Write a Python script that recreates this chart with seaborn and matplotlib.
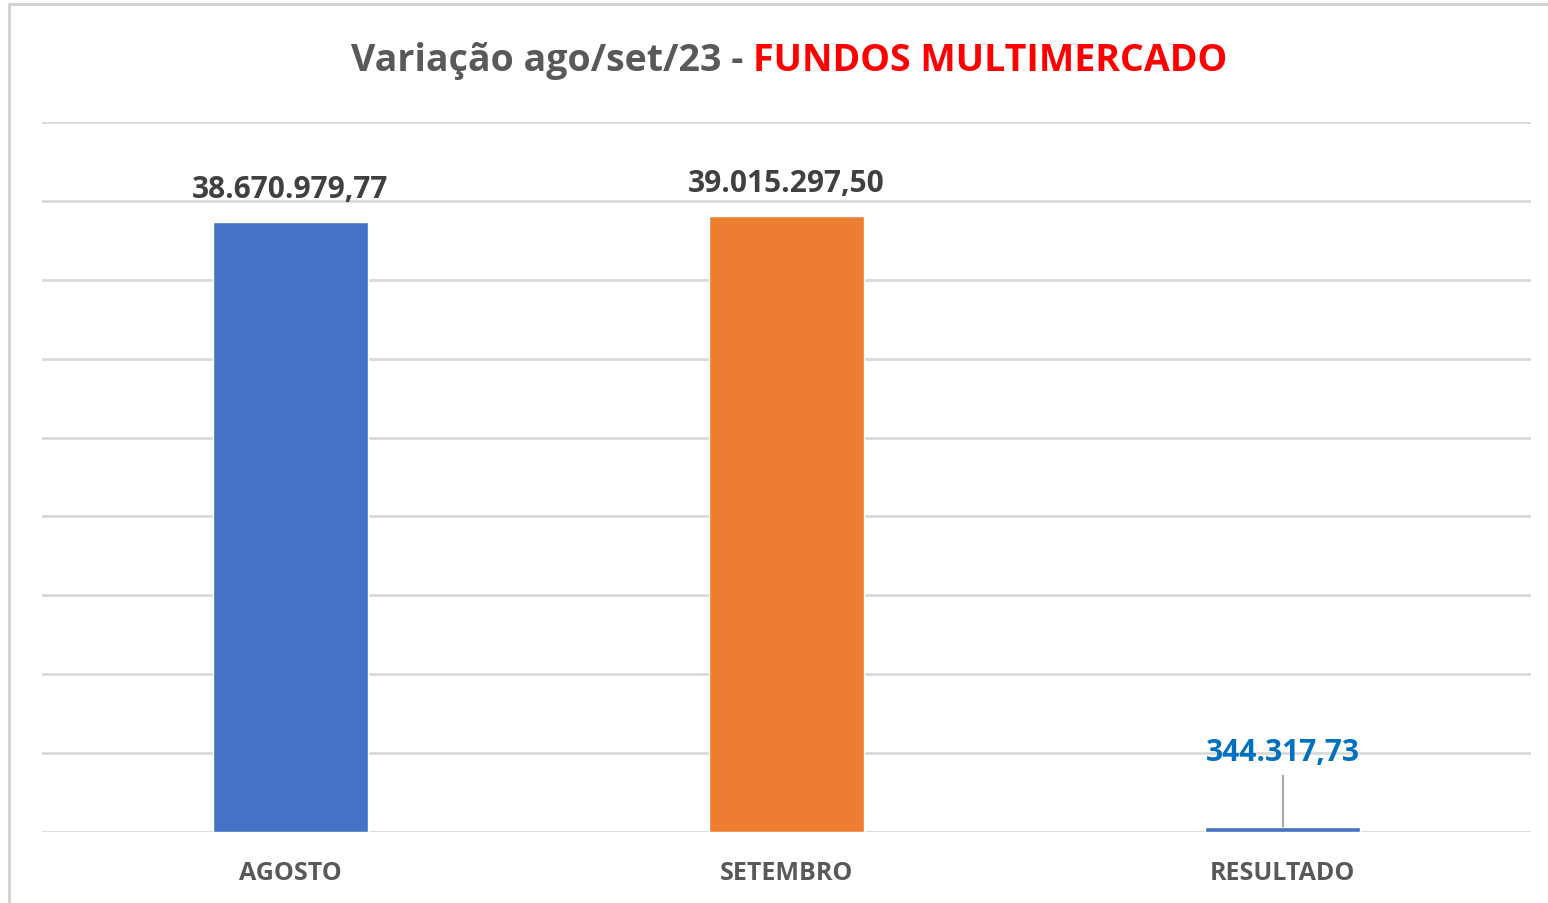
import matplotlib
matplotlib.use("Agg")
import matplotlib.pyplot as plt
import seaborn as sns
from matplotlib.lines import Line2D

# data
categorias = ["AGOSTO", "SETEMBRO", "RESULTADO"]
valores = [38670979.77, 39015297.50, 344317.73]
cores = ["#4472C4", "#ED7D31", "#4472C4"]
cores_rotulo = ["#404040", "#404040", "#0070C0"]


def fmt_br(v):
    s = f"{v:,.2f}"
    return s.replace(",", "X").replace(".", ",").replace("X", ".")


sns.set_theme(style="white")
plt.rcParams["font.family"] = ["Open Sans", "DejaVu Sans"]

fig = plt.figure(figsize=(15.48, 9.04), dpi=100)
ax = fig.add_axes([0.0271, 0.0785, 0.962, 0.7854])

sns.barplot(x=categorias, y=valores, hue=categorias, palette=cores,
            width=0.3125, legend=False, ax=ax, saturation=1)

ax.set_ylim(0, 45e6)
ax.set_xlim(-0.5, 2.5)
ax.set_yticks([i * 5e6 for i in range(10)])
ax.set_yticklabels([])
ax.tick_params(axis="y", length=0)
ax.tick_params(axis="x", length=0, pad=20, labelsize=18, labelcolor="#595959")
for t in ax.get_xticklabels():
    t.set_fontweight("bold")
ax.grid(axis="y", color="#D9D9D9", linewidth=2)
ax.set_axisbelow(True)
for s in ax.spines.values():
    s.set_visible(False)

# data labels
for i, v in enumerate(valores):
    if i < 2:
        ax.annotate(fmt_br(v), (i, v), xytext=(0, 13), textcoords="offset points",
                    ha="center", va="bottom", fontsize=21.5, fontweight="bold",
                    color=cores_rotulo[i])
    else:
        ax.annotate(fmt_br(v), (i, v), xytext=(0, 43), textcoords="offset points",
                    ha="center", va="bottom", fontsize=21.5, fontweight="bold",
                    color=cores_rotulo[i],
                    arrowprops=dict(arrowstyle="-", color="#A6A6A6", lw=1.5,
                                    shrinkA=4, shrinkB=0))

# title in two colours
t1 = fig.text(0.5, 0.932, "Variação ago/set/23 - ", ha="right", va="center",
              fontsize=27, fontweight="bold", color="#595959")
fig.canvas.draw()
bb = t1.get_window_extent()
w1 = bb.width / fig.bbox.width
t2 = fig.text(0.5, 0.932, "FUNDOS MULTIMERCADO", ha="left", va="center",
              fontsize=27, fontweight="bold", color="#FF0000")
bb2 = t2.get_window_extent()
w2 = bb2.width / fig.bbox.width
center = 0.5095
start = center - (w1 + w2) / 2
t1.set_x(start + w1)
t2.set_x(start + w1)

# chart frame (left and top edges)
fig.add_artist(Line2D([0.0055, 0.0055], [0, 0.9945], color="#D0D0D0", lw=2,
                      transform=fig.transFigure))
fig.add_artist(Line2D([0.0055, 1.0], [0.9945, 0.9945], color="#D0D0D0", lw=2,
                      transform=fig.transFigure))

fig.savefig("out.png", dpi=100)
